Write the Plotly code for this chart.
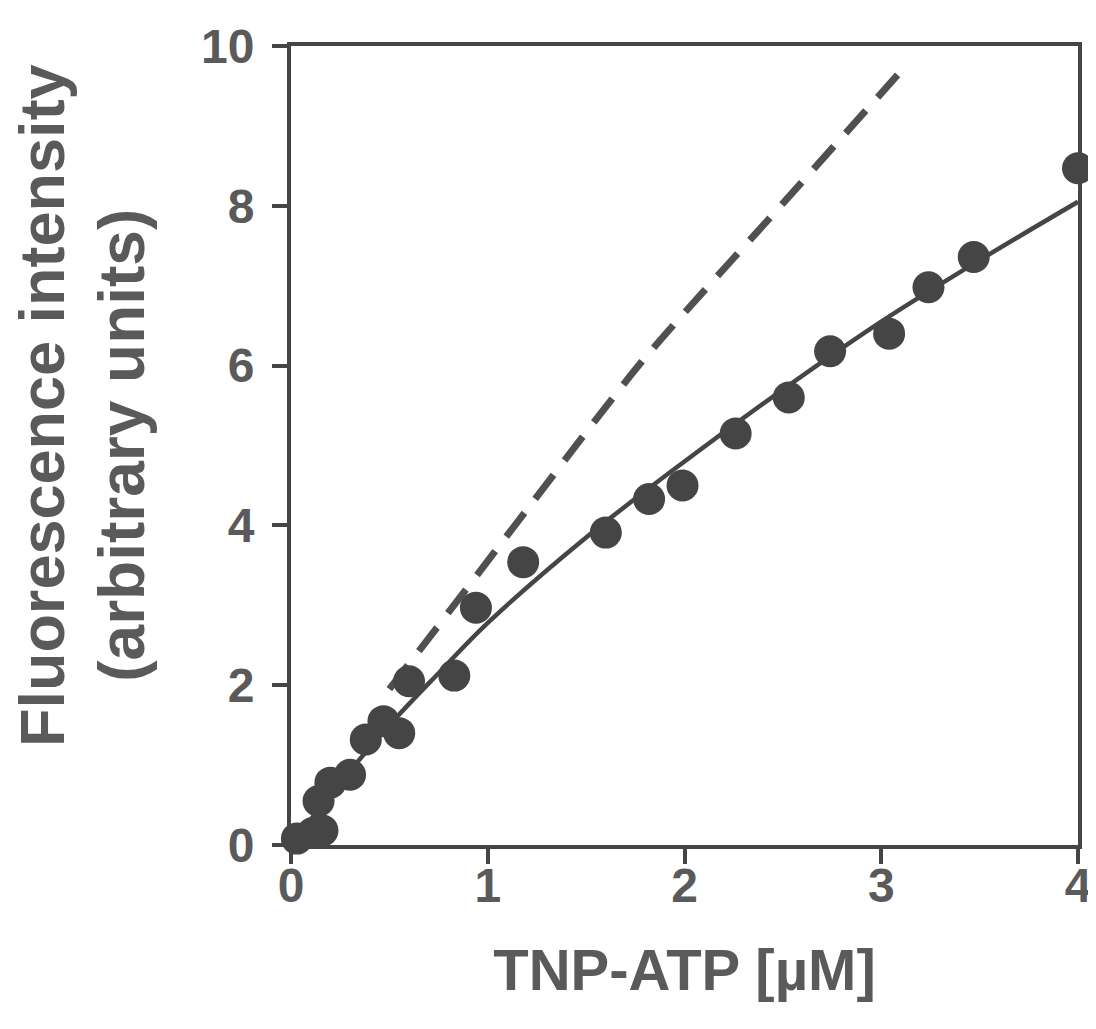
import plotly.graph_objects as go

# measured points
tnp_atp = [0.03, 0.11, 0.16, 0.14, 0.20, 0.30, 0.38, 0.47, 0.55, 0.60, 0.83,
           0.94, 1.18, 1.60, 1.82, 1.99, 2.26, 2.53, 2.74, 3.04, 3.24, 3.47, 4.00]
fluor = [0.08, 0.15, 0.18, 0.55, 0.78, 0.88, 1.32, 1.55, 1.40, 2.05, 2.12,
         2.97, 3.54, 3.91, 4.33, 4.50, 5.15, 5.60, 6.18, 6.40, 6.98, 7.36, 8.47]

# fitted curve (solid)
fit_x = [0, 0.25, 0.5, 0.75, 1.0, 1.5, 2.0, 2.5, 3.0, 3.5, 4.0]
fit_y = [0, 0.78, 1.5, 2.15, 2.78, 3.85, 4.8, 5.7, 6.55, 7.32, 8.05]

# dashed curve
dash_x = [0.5, 0.735, 1.2, 1.65, 1.835, 2.5, 3.12]
dash_y = [1.95, 2.70, 4.2, 5.64, 6.2, 8.03, 9.74]

ink = '#454545'
txt = '#5a5a5a'

fig = go.Figure()
fig.add_trace(go.Scatter(x=dash_x, y=dash_y, mode='lines',
                         line=dict(color='#505050', width=7, dash='30px,18px', shape='spline'),
                         cliponaxis=False, showlegend=False))
fig.add_trace(go.Scatter(x=fit_x, y=fit_y, mode='lines',
                         line=dict(color=ink, width=4.5, shape='spline'),
                         cliponaxis=False, showlegend=False))
fig.add_trace(go.Scatter(x=tnp_atp, y=fluor, mode='markers',
                         marker=dict(color=ink, size=32),
                         cliponaxis=False, showlegend=False))

font = dict(family='Liberation Sans, Arial, sans-serif', color=txt, weight='bold')

fig.update_xaxes(range=[0, 4], tickvals=[0, 1, 2, 3, 4],
                 ticks='outside', ticklen=15, tickwidth=4, tickcolor=ink,
                 showline=True, linewidth=4, linecolor=ink, mirror=True,
                 showgrid=False, zeroline=False, ticklabelstandoff=-20,
                 tickfont=dict(size=48, **font),
                 title=dict(text='TNP-ATP [µM]', font=dict(size=58, **font), standoff=40))
fig.update_yaxes(range=[0, 10], tickvals=[0, 2, 4, 6, 8, 10],
                 ticks='outside', ticklen=15, tickwidth=4, tickcolor=ink,
                 showline=True, linewidth=4, linecolor=ink, mirror=True,
                 showgrid=False, zeroline=False, ticklabelstandoff=8,
                 tickfont=dict(size=48, **font))

# y title as two separately placed lines
fig.add_annotation(text='Fluorescence intensity', textangle=-90, showarrow=False,
                   xref='paper', x=-0.364, xanchor='left', yref='y', y=5.5,
                   font=dict(size=63, **font))
fig.add_annotation(text='(arbitrary units)', textangle=-90, showarrow=False,
                   xref='paper', x=-0.264, xanchor='left', yref='y', y=5.0,
                   font=dict(size=64, **font))

fig.update_layout(width=1096, height=1029,
                  margin=dict(l=283, r=18, t=37, b=192),
                  plot_bgcolor='white', paper_bgcolor='white')

fig.write_html('out.html')
